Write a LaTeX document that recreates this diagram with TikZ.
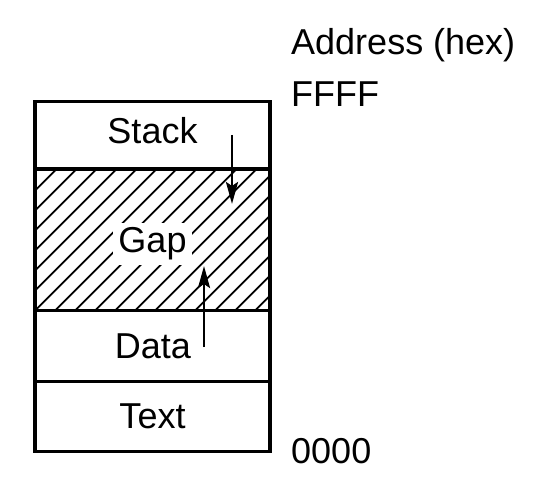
\documentclass[tikz,border=0pt]{standalone}
\usepackage{fontspec}
\setmainfont{Liberation Sans}
\usetikzlibrary{arrows.meta}
\begin{document}
\begin{tikzpicture}[x=1pt,y=-1pt,
  seg/.style={draw=black,line width=3.3pt},
  lbl/.style={font=\fontsize{36}{40}\selectfont,inner sep=0pt},
  side/.style={font=\fontsize{36}{40}\selectfont,inner sep=0pt,anchor=base west},
  hatchline/.style={line width=1.8pt},
  growarrow/.style={line width=2.8pt,-{Stealth[length=22pt,width=12pt,inset=4pt]}}]
\useasboundingbox (0,0) rectangle (538,478);
% hatching in the gap
\begin{scope}
\clip (35,169) rectangle (270,310.7);
\foreach \k in {-105,-85,...,285}
  \draw[hatchline] (\k,310.7) -- (\k+141.7,169);
\end{scope}
% segments
\draw[seg] (35,101.7) rectangle (270,451.7);
\draw[seg] (35,169) -- (270,169);
\draw[seg] (35,310.7) -- (270,310.7);
\draw[seg] (35,381.7) -- (270,381.7);
% labels
\node[lbl] (stack) at (152.5,131) {Stack};
\node[lbl,fill=white,inner xsep=5pt,inner ysep=5pt] (gap) at (152.5,244) {Gap};
\node[lbl] (data) at (153,346) {Data};
\node[lbl] (text) at (152.5,416) {Text};
% arrows
\coordinate (s0) at (232,135);
\coordinate (s1) at (232,204);
\coordinate (d0) at (204,347);
\coordinate (d1) at (204,266);
\draw[growarrow] (s0) -- (s1);
\draw[growarrow] (d0) -- (d1);
% address labels
\node[side] (addr) at (291,55) {Address (hex)};
\node[side] (ffff) at (291,107) {FFFF};
\node[side] (zero) at (291,463) {0000};
\end{tikzpicture}
\end{document}
